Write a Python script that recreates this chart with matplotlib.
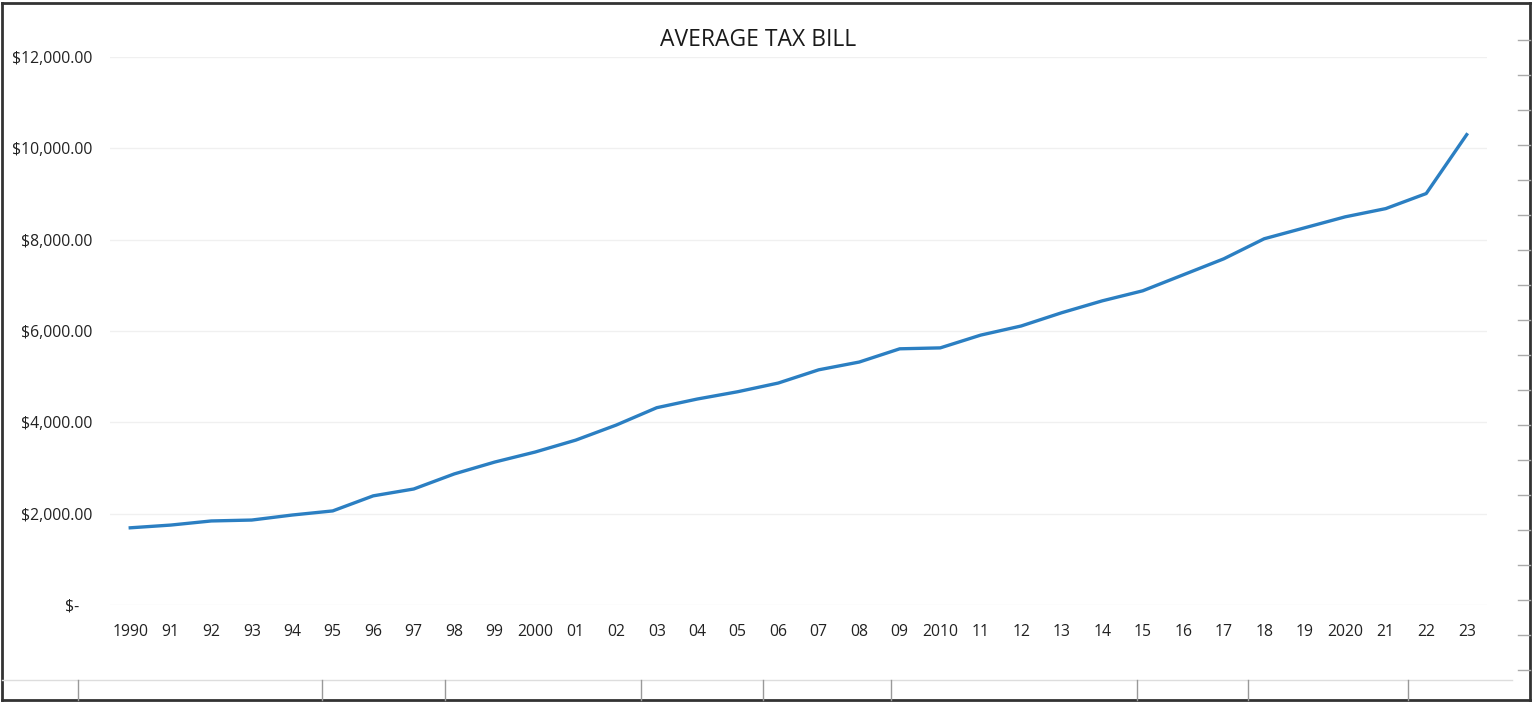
import matplotlib.pyplot as plt
from matplotlib.lines import Line2D
from matplotlib.ticker import FuncFormatter

# values
years = ["1990", "91", "92", "93", "94", "95", "96", "97", "98", "99",
         "2000", "01", "02", "03", "04", "05", "06", "07", "08", "09",
         "2010", "11", "12", "13", "14", "15", "16", "17", "18", "19",
         "2020", "21", "22", "23"]
tax_bill = [1690, 1750, 1840, 1860, 1970, 2060, 2390, 2540, 2870, 3130,
            3350, 3610, 3940, 4320, 4510, 4670, 4860, 5150, 5320, 5610,
            5630, 5910, 6110, 6400, 6660, 6880, 7230, 7580, 8020, 8260,
            8500, 8680, 9010, 10300]
y_ticks = [0, 2000, 4000, 6000, 8000, 10000, 12000]

plt.rcParams["font.family"] = ["Open Sans", "DejaVu Sans"]

fig = plt.figure(figsize=(15.32, 7.02), dpi=100)
ax = fig.add_axes([0.0718, 0.1382, 0.8988, 0.7806])

x = list(range(len(years)))
ax.plot(x, tax_bill, color="#2b7fc2", linewidth=2.4, solid_joinstyle="round")

ax.set_xlim(-0.5, len(years) - 0.5)
ax.set_ylim(0, 12000)
ax.set_yticks(y_ticks)


def money(v, pos):
    if v == 0:
        return "$-   "
    return "${:,.2f}".format(v)


ax.yaxis.set_major_formatter(FuncFormatter(money))
ax.set_xticks(x)
ax.set_xticklabels(years)
ax.tick_params(axis="both", length=0, labelsize=11.3, labelcolor="#222222")
ax.tick_params(axis="y", pad=13)
ax.tick_params(axis="x", pad=14)
ax.grid(axis="y", color="#f0f0f0", linewidth=1)
ax.set_axisbelow(True)
for s in ax.spines.values():
    s.set_visible(False)

fig.text(0.495, 0.943, "AVERAGE TAX BILL", ha="center", va="center",
         fontsize=16.5, color="#1a1a1a")

# scanned frame of the sheet
W, H = 1532, 702
def px(xp, yp):
    return xp / W, 1 - yp / H

for (x0, y0), (x1, y1) in [((2, 3), (1530, 3)), ((2, 3), (2, 700)),
                           ((2, 700), (1530, 700)), ((1530, 3), (1530, 700))]:
    a, b = px(x0, y0)
    c, d = px(x1, y1)
    fig.add_artist(Line2D([a, c], [b, d], color="#333333", linewidth=2))

a, b = px(2, 680)
c, d = px(1512, 680)
fig.add_artist(Line2D([a, c], [b, d], color="#dddddd", linewidth=1))
for xp in [78, 322, 445, 641, 763, 891, 1137, 1248, 1408]:
    a, b = px(xp, 680)
    c, d = px(xp, 700)
    fig.add_artist(Line2D([a, c], [b, d], color="#999999", linewidth=1))
for yp in range(40, 700, 35):
    a, b = px(1518, yp)
    c, d = px(1530, yp)
    fig.add_artist(Line2D([a, c], [b, d], color="#aaaaaa", linewidth=1))

fig.savefig("out.png", dpi=100)
